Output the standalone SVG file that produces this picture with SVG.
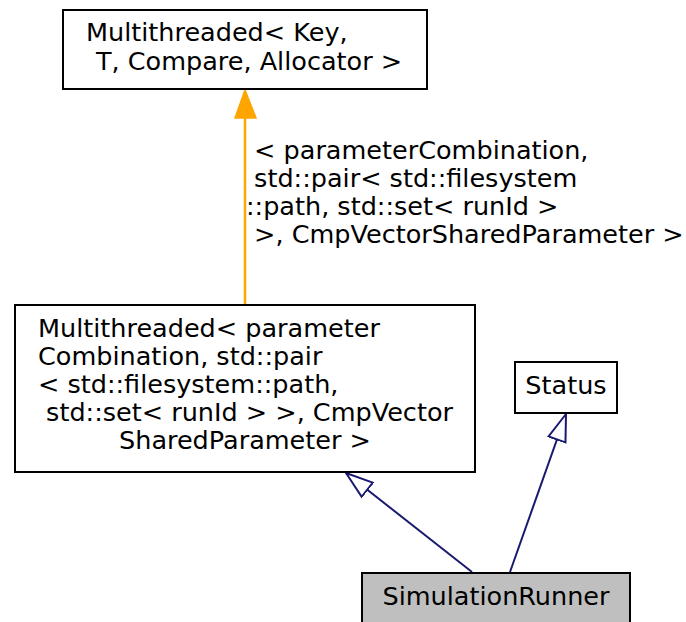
<svg xmlns="http://www.w3.org/2000/svg" width="686" height="622" viewBox="0 0 686 622">
<defs>
<style>
text{font-family:"DejaVu Sans","Liberation Sans",sans-serif;font-size:25.5px;fill:#000;white-space:pre}
.box{fill:#fff;stroke:#000;stroke-width:2}
.cur{fill:#bfbfbf;stroke:#000;stroke-width:2}
.inh{stroke:#191970;stroke-width:2;fill:none}
.tpl{stroke:#ffa500;stroke-width:2.5;fill:none}
</style>
<marker id="open" viewBox="0 0 30 22" refX="28" refY="11" markerWidth="30" markerHeight="22" markerUnits="userSpaceOnUse" orient="auto">
<path d="M28,11 L1,2 L1,20 Z" fill="#fff" stroke="#191970" stroke-width="2"/>
</marker>
</defs>
<g id="edges">
<path class="tpl" d="M245,304 L245,116"/>
<path d="M245,90 L235,118 L256,118 Z" fill="#ffa500" stroke="#ffa500" stroke-width="1.5"/>
<path class="inh" d="M472,572 L346,473" marker-end="url(#open)"/>
<path class="inh" d="M510,572 L566,414" marker-end="url(#open)"/>
<text x="246" y="159"> &lt; parameterCombination,</text>
<text x="246" y="187"> std::pair&lt; std::filesystem</text>
<text x="246" y="215">::path, std::set&lt; runId &gt;</text>
<text x="246" y="243"> &gt;, CmpVectorSharedParameter &gt;</text>
</g>
<g id="node_multithreaded">
<rect class="box" x="63" y="10" width="364" height="79"/>
<text x="86" y="41">Multithreaded&lt; Key,</text>
<text x="245" y="70" text-anchor="middle"> T, Compare, Allocator &gt;</text>
</g>
<g id="node_multithreaded_param">
<rect class="box" x="15" y="305" width="460" height="167"/>
<text x="38" y="337">Multithreaded&lt; parameter</text>
<text x="38" y="365">Combination, std::pair</text>
<text x="38" y="393">&lt; std::filesystem::path,</text>
<text x="38" y="421"> std::set&lt; runId &gt; &gt;, CmpVector</text>
<text x="245" y="449" text-anchor="middle">SharedParameter &gt;</text>
</g>
<g id="node_status">
<rect class="box" x="515" y="362" width="102" height="51"/>
<text x="566" y="394" text-anchor="middle">Status</text>
</g>
<g id="node_simulationrunner">
<rect class="cur" x="362" y="573" width="268" height="52"/>
<text x="496" y="605" text-anchor="middle">SimulationRunner</text>
</g>
</svg>
